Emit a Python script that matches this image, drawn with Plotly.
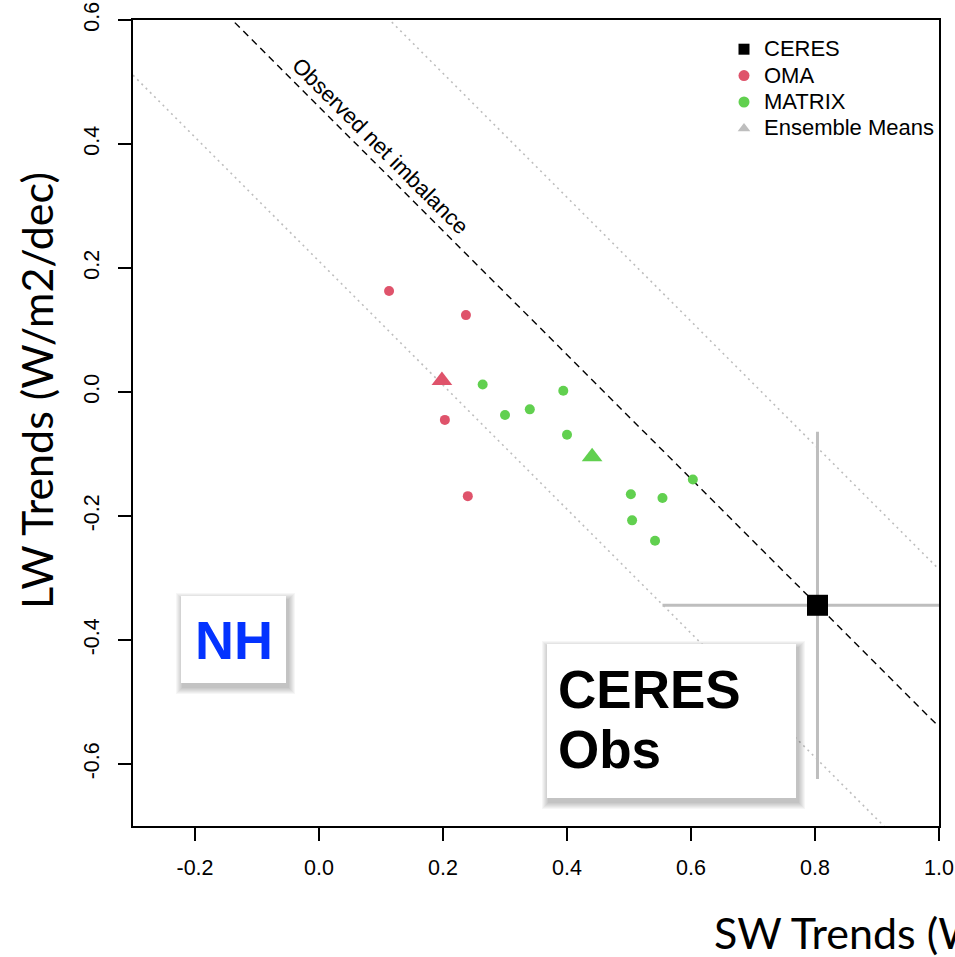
import numpy as np
import plotly.graph_objects as go

# ---------------- data ----------------
oma_sw = [0.113, 0.237, 0.203, 0.240]
oma_lw = [0.163, 0.124, -0.045, -0.168]
matrix_sw = [0.264, 0.300, 0.340, 0.394, 0.400, 0.603, 0.503, 0.554, 0.505, 0.542]
matrix_lw = [0.012, -0.037, -0.028, 0.002, -0.069, -0.141, -0.165, -0.171, -0.207, -0.240]
ceres_sw = [0.804]
ceres_lw = [-0.344]
ceres_sw_err = [0.25]
ceres_lw_err = [0.28]
net_observed = 0.460      # SW + LW along the dashed line
net_band = [0.211, 0.714]  # dotted envelope lines
x_ticks = [-0.2, 0.0, 0.2, 0.4, 0.6, 0.8, 1.0]
y_ticks = [-0.6, -0.4, -0.2, 0.0, 0.2, 0.4, 0.6]
x_range = [-0.3, 1.0]
y_range = [-0.7, 0.6]
legend_names = ["CERES", "OMA", "MATRIX", "Ensemble Means"]

RED = "#DF536B"
GREEN = "#61D04F"
GRAY = "#BEBEBE"
TICKFONT = "Liberation Sans, Arial, sans-serif"
TITLEFONT = "Lato, Carlito, Calibri, sans-serif"

# figure geometry (pixels)
W, H = 955, 957
L, R, T, B = 133, 16, 20, 131
PW = W - L - R
PH = H - T - B


def px(xp):
    return (xp - L) / PW


def py(yp):
    return (H - B - yp) / PH


fig = go.Figure()

# guide lines: SW + LW = constant
line_x = np.array(x_range)
for c in net_band:
    fig.add_trace(go.Scatter(x=line_x, y=c - line_x, mode="lines",
                             line=dict(color=GRAY, width=1.6, dash="2px,4px"),
                             showlegend=False, hoverinfo="skip"))
fig.add_trace(go.Scatter(x=line_x, y=net_observed - line_x, mode="lines",
                         line=dict(color="black", width=1.4, dash="7px,5px"),
                         showlegend=False, hoverinfo="skip"))

# model points
fig.add_trace(go.Scatter(x=oma_sw, y=oma_lw, mode="markers",
                         marker=dict(color=RED, size=10, line=dict(width=0)),
                         showlegend=False))
fig.add_trace(go.Scatter(x=matrix_sw, y=matrix_lw, mode="markers",
                         marker=dict(color=GREEN, size=10, line=dict(width=0)),
                         showlegend=False))
# ensemble means
fig.add_trace(go.Scatter(x=[np.mean(oma_sw), np.mean(matrix_sw)],
                         y=[np.mean(oma_lw), np.mean(matrix_lw)],
                         mode="markers",
                         marker=dict(color=[RED, GREEN], size=18, symbol="triangle-up",
                                     line=dict(width=0)),
                         showlegend=False))
# CERES obs with uncertainty
fig.add_trace(go.Scatter(x=ceres_sw, y=ceres_lw, mode="markers",
                         marker=dict(color="black", size=21, symbol="square", line=dict(width=0)),
                         error_x=dict(type="data", array=ceres_sw_err, color=GRAY, thickness=3, width=0),
                         error_y=dict(type="data", array=ceres_lw_err, color=GRAY, thickness=3, width=0),
                         showlegend=False))

# legend entries
legend_styles = [("black", "square"), (RED, "circle"), (GREEN, "circle"), (GRAY, "triangle-up")]
for name, (col, sym) in zip(legend_names, legend_styles):
    fig.add_trace(go.Scatter(x=[None], y=[None], mode="markers",
                             name=f'<span style="font-size:22px">{name}</span>',
                             marker=dict(color=col, size=11, symbol=sym, line=dict(width=0))))

shapes = []


def shadow_box(x0, y0, x1, y1):
    for e in range(1, 8):
        shapes.append(dict(type="rect", xref="paper", yref="paper",
                           x0=px(x0 + 2 - e), x1=px(x1 + 2 + e),
                           y0=py(y1 + 4 + e), y1=py(y0 + 4 - e),
                           line=dict(width=0), fillcolor="rgba(0,0,0,0.035)", layer="above"))
    shapes.append(dict(type="rect", xref="paper", yref="paper",
                       x0=px(x0), x1=px(x1), y0=py(y1), y1=py(y0),
                       line=dict(width=0), fillcolor="white", layer="above"))


shadow_box(181, 596, 286, 683)
shadow_box(547, 644, 796, 798)

annotations = [
    dict(x=0.098, y=0.397, xref="x", yref="y", text="Observed net imbalance",
         textangle=45, showarrow=False, font=dict(family=TICKFONT, size=22, color="black")),
    dict(x=px(233.5), y=py(640), xref="paper", yref="paper", text="NH", showarrow=False,
         xanchor="center", yanchor="middle",
         font=dict(family=TICKFONT, size=54, color="#0433FF", weight="bold")),
    dict(x=px(556), y=py(689), xref="paper", yref="paper", text="CERES", showarrow=False,
         xanchor="left", yanchor="middle",
         font=dict(family=TICKFONT, size=53, color="black", weight="bold")),
    dict(x=px(556), y=py(749), xref="paper", yref="paper", text="Obs", showarrow=False,
         xanchor="left", yanchor="middle",
         font=dict(family=TICKFONT, size=53, color="black", weight="bold")),
    dict(x=px(712), y=py(932), xref="paper", yref="paper", text="SW Trends (W/m2/dec)",
         showarrow=False, xanchor="left", yanchor="middle",
         font=dict(family=TITLEFONT, size=43, color="black")),
    dict(x=px(37), y=py(391), xref="paper", yref="paper", text="LW Trends (W/m2/dec)",
         showarrow=False, textangle=-90, xanchor="center", yanchor="middle",
         font=dict(family=TITLEFONT, size=43, color="black")),
]

axis_common = dict(showgrid=False, zeroline=False, showline=True, linecolor="black",
                   linewidth=1.5, mirror=True, ticks="outside", ticklen=13, tickwidth=1.5,
                   tickcolor="black", automargin=False,
                   tickfont=dict(family=TICKFONT, size=21.5, color="black"))

fig.update_layout(
    template="none",
    width=W, height=H, autosize=False,
    margin=dict(l=L, r=R, t=T, b=B, pad=0, autoexpand=False),
    paper_bgcolor="white", plot_bgcolor="white",
    xaxis=dict(range=x_range, tickvals=x_ticks, ticktext=[f"{v:.1f}" for v in x_ticks],
               ticklabelstandoff=8, **axis_common),
    yaxis=dict(range=y_range, tickvals=y_ticks, ticktext=[f"{v:.1f}" for v in y_ticks],
               tickangle=-90, ticklabelstandoff=11, **axis_common),
    legend=dict(x=px(724), y=py(31), xanchor="left", yanchor="top",
                bgcolor="rgba(0,0,0,0)", borderwidth=0,
                font=dict(family=TICKFONT, size=18, color="black"),
                itemsizing="trace", tracegroupgap=0),
    shapes=shapes,
    annotations=annotations,
)

fig.write_html("out.html")
